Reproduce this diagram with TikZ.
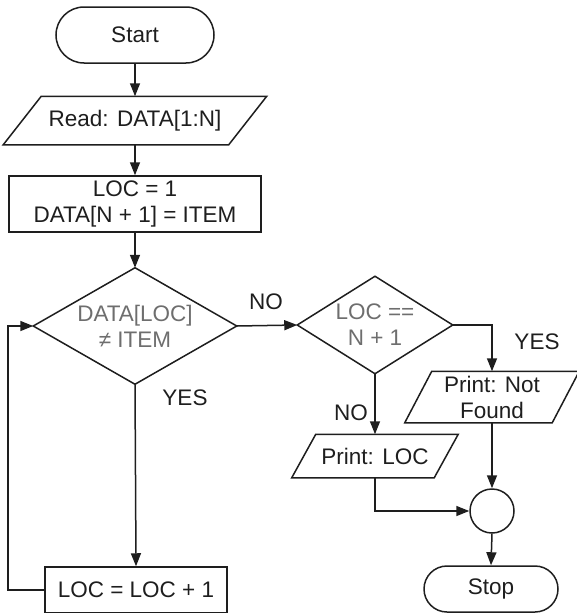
\documentclass[tikz,border=0pt]{standalone}
\usepackage{fontspec}
\setmainfont{Liberation Sans}
\usetikzlibrary{arrows.meta,calc}
\definecolor{ln}{HTML}{1E1E1E}
\definecolor{gtxt}{HTML}{6E6E6E}
\begin{document}
\begin{tikzpicture}[x=1pt,y=-1pt,line width=1.5pt,
  every node/.style={font=\fontsize{22.5}{26}\selectfont,text=ln,align=center,inner sep=0pt},
  arr/.style={draw=ln,-{Triangle[length=13pt,width=10pt]}},
  ln/.style={draw=ln},
  term/.style={draw=ln,rectangle},
  procbox/.style={draw=ln,rectangle},
  shapeonly/.style={rectangle}]
\useasboundingbox (0,0) rectangle (577,613);

% nodes
\node[term,minimum width=158pt,minimum height=56pt,rounded corners=28pt] (start) at (135,35) {Start};
\node[shapeonly,minimum width=224pt,minimum height=47pt] (read) at (135,120.5) {Read: DATA[1:N]};
\node[procbox,minimum width=252pt,minimum height=56pt] (init) at (135,204) {LOC = 1\\DATA[N + 1] = ITEM};
\node[shapeonly,minimum width=202pt,minimum height=115pt,text=gtxt] (d1) at (135,326) {DATA[LOC]\\≠ ITEM};
\node[shapeonly,minimum width=154pt,minimum height=96pt,text=gtxt] (d2) at (375,325) {LOC ==\\N + 1};
\node[shapeonly,minimum width=146pt,minimum height=50pt] (pnf) at (492,397) {Print: Not\\Found};
\node[shapeonly,minimum width=141pt,minimum height=42pt] (ploc) at (375,456) {Print: LOC};
\node[draw=ln,circle,minimum size=44pt] (circ) at (492,511) {};
\node[term,minimum width=134pt,minimum height=46pt,rounded corners=23pt] (stop) at (491,589) {Stop};
\node[procbox,minimum width=182pt,minimum height=46pt] (inc) at (136,590) {LOC = LOC + 1};

% outlines of parallelograms and diamonds
\draw[ln] ($(read.north west)+(19,0)$) -- ($(read.north east)+(19,0)$) -- ($(read.south east)+(-19,0)$) -- ($(read.south west)+(-19,0)$) -- cycle;
\draw[ln] ($(pnf.north west)+(13.5,0)$) -- ($(pnf.north east)+(13.5,0)$) -- ($(pnf.south east)+(-13.5,0)$) -- ($(pnf.south west)+(-13.5,0)$) -- cycle;
\draw[ln] ($(ploc.north west)+(12,0)$) -- ($(ploc.north east)+(12,0)$) -- ($(ploc.south east)+(-12,0)$) -- ($(ploc.south west)+(-12,0)$) -- cycle;
\draw[ln] (d1.north) -- (d1.east) -- (d1.south) -- (d1.west) -- cycle;
\draw[ln] (d2.north) -- (d2.east) -- (d2.south) -- (d2.west) -- cycle;

% labels
\node (no1) at (266,302) {NO};
\node (yes1) at (185,398) {YES};
\node (no2) at (351,413) {NO};
\node (yes2) at (537,342) {YES};

% connectors
\draw[arr] (start) -- (read);
\draw[arr] (read) -- (init);
\draw[arr] (init) -- (d1);
\draw[arr] (d1.east) -- (d2.west);
\draw[arr] (d2.east) -| (pnf.north);
\draw[arr] (d2.south) -- (ploc.north);
\draw[arr] (pnf.south) -- (circ.north);
\draw[arr] (ploc.south) |- (circ.west);
\draw[arr] (circ.south) -- (stop.north);
\draw[arr] (d1.south) -- (inc.north);
\coordinate (lp) at (8,590);
\draw[arr] (inc.west) -- (lp) |- (d1.west);
\end{tikzpicture}
\end{document}
